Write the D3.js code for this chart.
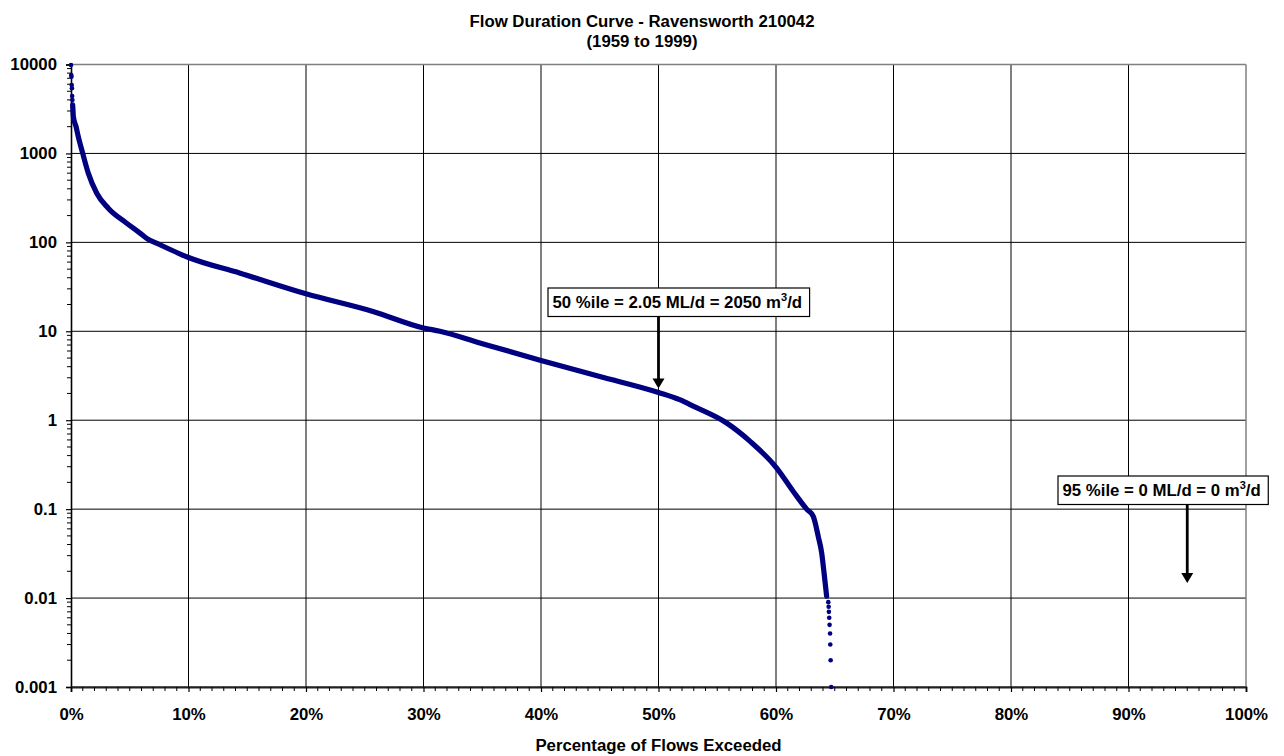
<!DOCTYPE html>
<html>
<head>
<meta charset="utf-8">
<script src="https://cdn.jsdelivr.net/npm/d3@7"></script>
<style>
  body { margin: 0; background: #fff; }
  text { font-family: Arial, "Liberation Sans", sans-serif; font-weight: bold; fill: #000; }
</style>
</head>
<body>
<svg id="chart" width="1284" height="756"></svg>
<script>
// Flow duration data: percentage of time exceeded (%) vs daily flow (ML/d)
// Isolated high-flow points at the very start of the record
const headPct  = [0.00, 0.02, 0.04, 0.06, 0.08, 0.10, 0.12];
const headFlow = [9870, 7620, 7300, 5890, 5400, 4430, 3990];

// Dense body of the curve
const curvePct  = [0.14, 0.16, 0.20, 0.43, 0.62, 1.00, 1.47, 2.19, 3.17, 4.74, 5.87, 6.44, 7.57,
                   10.0, 14.4, 20.0, 25.7, 30.0, 31.4, 34.8, 40.0, 45.0, 50.0, 51.8, 53.0, 55.8,
                   57.8, 60.06, 61.47, 62.61, 63.17, 63.6, 63.89, 64.09, 64.31];
const curveFlow = [3510, 3220, 2590, 2000, 1545, 1000, 600, 357, 242, 164, 127, 111, 94,
                   67.5, 45, 26.4, 16.7, 10.9, 10, 7.4, 4.7, 3.1, 2.05, 1.70, 1.43, 0.93,
                   0.578, 0.29, 0.158, 0.10, 0.083, 0.049, 0.032, 0.0192, 0.0105];

// Isolated low-flow points before flows drop to zero
const tailPct  = [64.45, 64.48, 64.50, 64.53, 64.56, 64.60, 64.62, 64.65, 64.70];
const tailFlow = [0.009, 0.008, 0.007, 0.006, 0.005, 0.004, 0.003, 0.002, 0.001];

const xTickValues = [0, 10, 20, 30, 40, 50, 60, 70, 80, 90, 100];
const xTickLabels = ["0%", "10%", "20%", "30%", "40%", "50%", "60%", "70%", "80%", "90%", "100%"];
const yTickValues = [0.001, 0.01, 0.1, 1, 10, 100, 1000, 10000];
const yTickLabels = ["0.001", "0.01", "0.1", "1", "10", "100", "1000", "10000"];

const titleLines = ["Flow Duration Curve - Ravensworth 210042", "(1959 to 1999)"];
const xAxisTitle = "Percentage of Flows Exceeded";

const notePct   = [50, 95];
const noteText  = ["50 %ile = 2.05 ML/d = 2050 m", "95 %ile = 0 ML/d = 0 m"];

// ---- layout ----
const svg = d3.select("#chart");
const W = 1284, H = 756;
const plot = { left: 71, right: 1246, top: 64.5, bottom: 687 };
const navy = "#000080";

svg.append("rect").attr("width", W).attr("height", H).attr("fill", "#fff");

const x = d3.scaleLinear().domain([0, 100]).range([plot.left, plot.right]);
const y = d3.scaleLog().domain([0.001, 10000]).range([plot.bottom, plot.top]);

// gridlines
const grid = svg.append("g");
grid.selectAll("line.h").data(yTickValues.filter(v => v < 10000)).join("line")
  .attr("x1", plot.left).attr("x2", plot.right)
  .attr("y1", d => y(d)).attr("y2", d => y(d))
  .attr("stroke", "#000").attr("stroke-width", 1);
grid.selectAll("line.v").data(xTickValues.filter(v => v > 0 && v < 100)).join("line")
  .attr("x1", d => x(d)).attr("x2", d => x(d))
  .attr("y1", plot.top).attr("y2", plot.bottom)
  .attr("stroke", "#000").attr("stroke-width", 1);

// plot frame (top and right in grey)
svg.append("line").attr("x1", plot.left).attr("x2", plot.right).attr("y1", plot.top).attr("y2", plot.top)
  .attr("stroke", "#808080").attr("stroke-width", 1.5);
svg.append("line").attr("x1", plot.right).attr("x2", plot.right).attr("y1", plot.top).attr("y2", plot.bottom)
  .attr("stroke", "#808080").attr("stroke-width", 1.5);

// y axis with log minor ticks
const yMinor = [];
yTickValues.slice(0, -1).forEach(d => { for (let k = 2; k <= 9; k++) yMinor.push(d * k); });
const yAxis = d3.axisLeft(y).tickValues(yTickValues).tickSize(5).tickFormat((d, i) => yTickLabels[i]);
const gy = svg.append("g").attr("transform", `translate(${plot.left},0)`).call(yAxis);
gy.select(".domain").attr("stroke", "#000").attr("stroke-width", 1.6);
gy.selectAll(".tick line").attr("stroke", "#000").attr("stroke-width", 1.2);
gy.selectAll(".tick text").attr("x", -14).attr("font-size", 16.8).attr("font-family", null);
svg.append("g").selectAll("line").data(yMinor).join("line")
  .attr("x1", plot.left - 4).attr("x2", plot.left)
  .attr("y1", d => y(d)).attr("y2", d => y(d))
  .attr("stroke", "#000").attr("stroke-width", 1);

// x axis with 1% minor ticks
const xMinor = d3.range(0, 101).filter(v => v % 10 !== 0);
const xAxis = d3.axisBottom(x).tickValues(xTickValues).tickSize(5).tickFormat((d, i) => xTickLabels[i]);
const gx = svg.append("g").attr("transform", `translate(0,${plot.bottom})`).call(xAxis);
gx.select(".domain").attr("stroke", "#222").attr("stroke-width", 1.8);
gx.selectAll(".tick line").attr("stroke", "#000").attr("stroke-width", 1.2);
gx.selectAll(".tick text").attr("y", 21).attr("dy", "0.71em").attr("font-size", 16.8).attr("font-family", null);
svg.append("g").selectAll("line").data(xMinor).join("line")
  .attr("x1", d => x(d)).attr("x2", d => x(d))
  .attr("y1", plot.bottom).attr("y2", plot.bottom + 4)
  .attr("stroke", "#000").attr("stroke-width", 1);

// flow duration curve
const body = curvePct.map((p, i) => [p, curveFlow[i]]);
svg.append("path")
  .attr("d", d3.line().x(d => x(d[0])).y(d => y(d[1])).curve(d3.curveMonotoneX)(body))
  .attr("fill", "none").attr("stroke", navy).attr("stroke-width", 5.2)
  .attr("stroke-linejoin", "round").attr("stroke-linecap", "round");

const dots = headPct.map((p, i) => [p, headFlow[i]]).concat(tailPct.map((p, i) => [p, tailFlow[i]]));
svg.append("g").selectAll("circle").data(dots).join("circle")
  .attr("cx", d => x(d[0])).attr("cy", d => y(d[1])).attr("r", 2.3).attr("fill", navy);

// title
svg.append("text").attr("x", 642).attr("y", 26.5).attr("text-anchor", "middle")
  .attr("font-size", 16.8).text(titleLines[0]);
svg.append("text").attr("x", 642).attr("y", 47).attr("text-anchor", "middle")
  .attr("font-size", 16.8).text(titleLines[1]);

// x axis title
svg.append("text").attr("x", (plot.left + plot.right) / 2).attr("y", 751).attr("text-anchor", "middle")
  .attr("font-size", 16.8).text(xAxisTitle);

// percentile annotations
const boxes = [
  { left: 548, top: 288, tipY: y(curveFlow[curvePct.indexOf(50)]) - 4 },
  { left: 1058, top: 476, tipY: 583 }
];
boxes.forEach((b, i) => {
  const g = svg.append("g");
  const rect = g.append("rect");
  const t = g.append("text").attr("x", b.left + 4.5).attr("y", b.top + 20).attr("font-size", 16.8);
  t.append("tspan").text(noteText[i]);
  t.append("tspan").attr("font-size", 11).attr("dy", -7).text("3");
  t.append("tspan").attr("dy", 7).text("/d");
  const len = t.node().getComputedTextLength();
  const h = 28.5;
  rect.attr("x", b.left).attr("y", b.top).attr("width", len + 12).attr("height", h)
    .attr("fill", "#fff").attr("stroke", "#000").attr("stroke-width", 1.2);
  const ax = x(notePct[i]);
  g.append("line").attr("x1", ax).attr("x2", ax).attr("y1", b.top + h).attr("y2", b.tipY - 9)
    .attr("stroke", "#000").attr("stroke-width", 2.8);
  g.append("path")
    .attr("d", `M${ax - 6},${b.tipY - 10} L${ax + 6},${b.tipY - 10} L${ax},${b.tipY} Z`)
    .attr("fill", "#000");
});
</script>
</body>
</html>
